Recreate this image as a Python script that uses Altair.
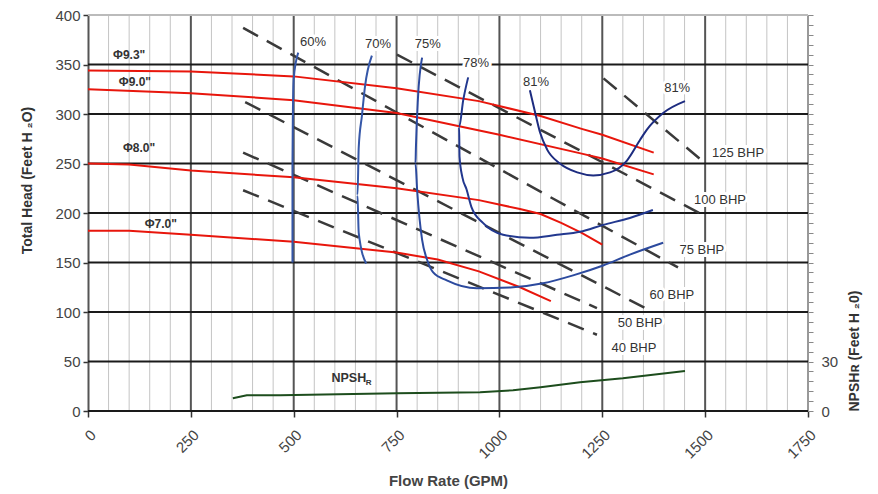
import altair as alt
import pandas as pd

# ---------------- data ----------------
# Head curves for impeller diameters (flow GPM, head ft)
d93_gpm = [0, 250, 500, 750, 950, 1100, 1200, 1250, 1375]
d93_head = [344, 343, 338, 326, 313, 298, 285, 279, 261]
d90_gpm = [0, 250, 500, 750, 1000, 1200, 1250, 1375]
d90_head = [325, 321, 314, 301, 279, 260, 255, 239]
d80_gpm = [0, 100, 250, 500, 750, 950, 1050, 1100, 1150, 1200, 1250]
d80_head = [250, 249, 243, 236, 225, 213, 204, 199, 190, 180, 168]
d70_gpm = [0, 100, 250, 500, 750, 850, 950, 1050, 1125]
d70_head = [182, 182, 178, 171, 160, 153, 141, 125, 111]

diam_labels = ['Φ9.3"', 'Φ9.0"', 'Φ8.0"', 'Φ7.0"']
diam_label_gpm = [100, 114, 124, 177]
diam_label_head = [360, 332, 266, 189]

# Efficiency iso-curves
e60_gpm = [511, 500, 498, 497, 497, 497]
e60_head = [362, 336, 300, 250, 200, 150]
e70_gpm = [690, 673, 666, 658, 655, 658, 676]
e70_head = [359, 327, 299, 266, 218, 180, 149]
e75_gpm = [812, 802, 797, 796, 800, 812, 824, 839, 872, 945, 1033, 1106, 1179, 1252, 1317, 1398]
e75_head = [357, 316, 266, 250, 223, 173, 153, 140, 132, 124, 125, 129, 137, 147, 158, 170]
e78_gpm = [924, 912, 902, 903, 910, 920, 932, 960, 1009, 1074, 1140, 1196, 1252, 1317, 1373]
e78_head = [337, 314, 287, 257, 236, 224, 206, 190, 178, 175, 178, 181, 188, 195, 203]
e81_gpm = [1074, 1087, 1099, 1116, 1147, 1189, 1228, 1269, 1310, 1342, 1358, 1398, 1451]
e81_head = [324, 301, 281, 264, 250, 241, 238, 241, 253, 274, 284, 301, 313]

eff_labels = ["60%", "70%", "75%", "78%", "81%", "81%"]
eff_label_gpm = [547, 705, 826, 943, 1089, 1432]
eff_label_head = [373, 371, 371, 352, 332, 326]

# Brake horsepower lines (start / end)
bhp_names = ["40 BHP", "50 BHP", "60 BHP", "75 BHP", "100 BHP", "125 BHP"]
bhp_gpm_start = [377, 377, 382, 377, 751, 1253]
bhp_head_start = [223, 261, 312, 387, 360, 336]
bhp_gpm_end = [1237, 1237, 1373, 1434, 1495, 1501]
bhp_head_end = [77, 104, 100, 145, 198, 250]
bhp_label_gpm = [1327, 1342, 1419, 1492, 1536, 1580]
bhp_label_head = [64, 89, 117, 163, 213, 261]

# NPSH required (ft)
npsh_gpm = [352, 386, 467, 751, 953, 1033, 1100, 1196, 1300, 1451]
npsh_ft = [7.7, 9.6, 9.6, 10.8, 11.4, 12.6, 14.4, 17.4, 19.8, 24.2]
npsh_text = ["NPSH", "R"]
npsh_text_gpm = [634, 682]
npsh_text_head = [33, 28]
npsh_text_size = [12.5, 8]

# Grid
x_major = [250, 500, 750, 1000, 1250, 1500]
x_minor = [v for v in range(50, 1750, 50) if v % 250 != 0]
y_major = [0, 50, 100, 150, 200, 250, 300, 350]

FONT = "Liberation Sans"

# ---------------- helpers ----------------
def curves(pairs):
    frames = []
    for name, q, h in pairs:
        frames.append(pd.DataFrame({"gpm": q, "head": h, "curve": name, "i": list(range(len(q)))}))
    return pd.concat(frames, ignore_index=True)

head_df = curves([("9.3", d93_gpm, d93_head), ("9.0", d90_gpm, d90_head),
                  ("8.0", d80_gpm, d80_head), ("7.0", d70_gpm, d70_head)])
eff_df = curves([("60", e60_gpm, e60_head), ("70", e70_gpm, e70_head), ("75", e75_gpm, e75_head),
                 ("78", e78_gpm, e78_head), ("81", e81_gpm, e81_head)])
bhp_rows = []
for n, q0, h0, q1, h1 in zip(bhp_names, bhp_gpm_start, bhp_head_start, bhp_gpm_end, bhp_head_end):
    bhp_rows.append({"gpm": q0, "head": h0, "curve": n, "i": 0})
    bhp_rows.append({"gpm": q1, "head": h1, "curve": n, "i": 1})
bhp_df = pd.DataFrame(bhp_rows)
npsh_df = pd.DataFrame({"gpm": npsh_gpm, "npsh": npsh_ft})

labels_df = pd.DataFrame({
    "gpm": eff_label_gpm + bhp_label_gpm,
    "head": eff_label_head + bhp_label_head,
    "text": eff_labels + bhp_names,
})
diam_df = pd.DataFrame({"gpm": diam_label_gpm, "head": diam_label_head, "text": diam_labels})
npsh_lab_df = pd.DataFrame({"gpm": npsh_text_gpm, "head": npsh_text_head, "text": npsh_text, "size": npsh_text_size})

xscale = alt.Scale(domain=[0, 1750], nice=False, zero=False)
yscale = alt.Scale(domain=[0, 400], nice=False, zero=False)

X = alt.X("gpm:Q", scale=xscale, title="Flow Rate (GPM)",
          axis=alt.Axis(values=list(range(0, 1751, 250)), format="d", labelAngle=-45, labelFontSize=15,
                        labelColor="#444", labelFont=FONT, labelPadding=10, tickColor="#333",
                        tickSize=6, tickWidth=1.5, domain=False, grid=False,
                        titleFont=FONT, titleFontSize=15, titleFontWeight="bold",
                        titleColor="#444", titlePadding=12))
Y = alt.Y("head:Q", scale=yscale, title="Total Head (Feet H ₂O)",
          axis=alt.Axis(values=list(range(0, 401, 50)), labelFontSize=15, labelColor="#444",
                        labelFont=FONT, labelPadding=3, tickColor="#333", tickSize=5, tickWidth=1.5,
                        domainColor="#555", domainWidth=2, grid=False,
                        titleFont=FONT, titleFontSize=14, titleFontWeight="bold", titleColor="#333",
                        titlePadding=20, titleY=165))

minor_v = alt.Chart(pd.DataFrame({"gpm": x_minor})).mark_rule(color="#c4c4c4", strokeWidth=1).encode(x=X)
major_v = alt.Chart(pd.DataFrame({"gpm": x_major})).mark_rule(color="#555", strokeWidth=2).encode(x=X)
right_v = alt.Chart(pd.DataFrame({"gpm": [1750]})).mark_rule(color="#999", strokeWidth=2).encode(x=X)
major_h = alt.Chart(pd.DataFrame({"head": y_major})).mark_rule(color="#1a1a1a", strokeWidth=2).encode(y=Y)
top_h = alt.Chart(pd.DataFrame({"head": [400]})).mark_rule(color="#bbb", strokeWidth=2).encode(y=Y)

bhp_lines = alt.Chart(bhp_df).mark_line(color="#3a3a3a", strokeWidth=2.5, strokeDash=[17, 10]).encode(
    x=X, y=Y, detail="curve:N", order="i:Q")
head_lines = alt.Chart(head_df).mark_line(color="#e8160c", strokeWidth=2).encode(
    x=X, y=Y, detail="curve:N", order="i:Q")
eff_lines = alt.Chart(eff_df).mark_line(strokeWidth=2, interpolate="monotone").encode(
    x=X, y=Y, order="i:Q",
    color=alt.Color("curve:N", legend=None,
                    scale=alt.Scale(domain=["60", "70", "75", "78", "81"],
                                    range=["#3557a8", "#3557a8", "#2c4a9e", "#22388f", "#1d2c80"])))

halo = alt.Chart(labels_df).mark_text(font=FONT, fontSize=13, stroke="white", strokeWidth=6,
                                      color="white").encode(x=X, y=Y, text="text:N")
lab = alt.Chart(labels_df).mark_text(font=FONT, fontSize=13, color="#333").encode(x=X, y=Y, text="text:N")
diam_text = alt.Chart(diam_df).mark_text(font=FONT, fontSize=12, fontWeight="bold", color="#333").encode(
    x=X, y=Y, text="text:N")
npsh_text_l = alt.Chart(npsh_lab_df).mark_text(font=FONT, fontWeight="bold", color="#333").encode(
    x=X, y=Y, text="text:N", size=alt.Size("size:Q", scale=None))

main = alt.layer(minor_v, major_v, right_v, major_h, top_h, bhp_lines, head_lines, eff_lines,
                 halo, lab, diam_text, npsh_text_l)

npsh_line = alt.Chart(npsh_df).mark_line(color="#1d4d1d", strokeWidth=2).encode(
    x=X,
    y=alt.Y("npsh:Q", scale=alt.Scale(domain=[0, 240], nice=False, zero=False),
            title="NPSHʀ (Feet H ₂0)",
            axis=alt.Axis(orient="right", values=list(range(0, 241, 6)),
                          labelExpr="(datum.value == 0 || datum.value == 30) ? datum.label : ''",
                          labelFontSize=15, labelColor="#444", labelFont=FONT, labelPadding=8,
                          tickColor="#888", tickSize=5, domain=False, grid=False,
                          titleFont=FONT, titleFontSize=14, titleFontWeight="bold", titleColor="#333",
                          titleAngle=270, titleAnchor="start", titlePadding=24)))

chart = alt.layer(main, npsh_line).resolve_scale(y="independent").properties(
    width=720, height=396,
    autosize=alt.AutoSizeParams(type="none"),
    padding={"left": 80, "top": 7, "right": 62, "bottom": 80},
    background="white",
).configure_view(stroke=None)

chart.save("out.html", embed_options={"renderer": "svg", "actions": False})
